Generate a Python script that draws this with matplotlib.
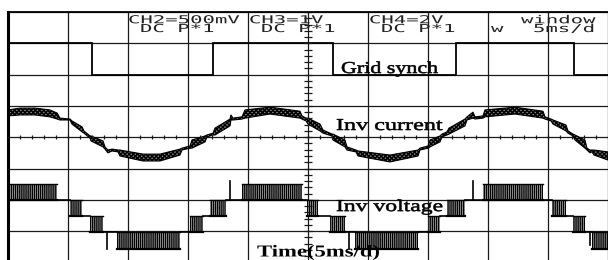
import numpy as np
import matplotlib
matplotlib.use("Agg")
import matplotlib.pyplot as plt
from matplotlib import patheffects
from matplotlib.transforms import Affine2D

# time in ms (5 ms/div), vertical position in screen divisions (0 = bottom, 8 = top)

# grid synchronisation square wave
synch_edges = [0.0, 7.0, 17.1, 27.1, 37.3, 47.2, 50.0]
synch_levels = [7.0, 6.0, 7.0, 6.0, 7.0, 6.0]

# inverter current trace, upper and lower edge of the (rippled) trace
current_t = [0.0, 1.0, 2.25, 3.5, 4.1, 4.33, 5.17, 5.33, 6.17, 6.33, 6.83, 6.92,
             7.92, 8.08, 8.33, 8.67, 9.17, 9.33, 11.25, 12.67, 14.33, 14.5, 15.17,
             15.33, 16.42, 16.58, 17.08, 17.25, 18.5, 18.58, 18.75, 19.5, 19.75,
             21.83, 24.33, 24.5, 24.83, 25.0, 26.0, 26.25, 27.0, 27.08, 28.08,
             28.25, 29.0, 29.17, 31.83, 34.17, 34.33, 35.0, 35.17, 36.0, 36.17,
             36.58, 36.75, 38.08, 38.25, 38.75, 38.92, 39.58, 39.75, 42.25, 44.58,
             44.75, 45.25, 45.42, 46.5, 46.67, 47.08, 47.25, 48.08, 48.25, 48.5,
             48.67, 48.83, 50.0]
current_hi = [4.87, 4.93, 4.93, 4.87, 4.77, 4.61, 4.58, 4.52, 4.33, 4.20, 4.04, 4.04,
              3.88, 3.69, 3.59, 3.62, 3.59, 3.59, 3.46, 3.46, 3.62, 3.65, 3.72,
              3.91, 4.04, 4.07, 4.13, 4.29, 4.58, 4.71, 4.61, 4.65, 4.87,
              4.96, 4.83, 4.68, 4.61, 4.61, 4.42, 4.23, 4.10, 4.10, 3.91,
              3.69, 3.59, 3.56, 3.43, 3.59, 3.65, 3.72, 3.91, 4.04, 4.10,
              4.17, 4.29, 4.58, 4.65, 4.80, 4.65, 4.68, 4.87, 4.96, 4.83,
              4.65, 4.58, 4.55, 4.39, 4.20, 4.10, 4.07, 3.91, 3.65, 3.59,
              3.59, 3.59, 3.53]
current_lo = [4.68, 4.71, 4.71, 4.65, 4.58, 4.55, 4.55, 4.42, 4.17, 4.13, 3.97, 3.88,
              3.69, 3.62, 3.50, 3.56, 3.53, 3.40, 3.24, 3.24, 3.43, 3.59, 3.65,
              3.65, 3.85, 4.01, 4.07, 4.07, 4.36, 4.55, 4.55, 4.58, 4.61,
              4.74, 4.61, 4.58, 4.52, 4.42, 4.20, 4.13, 4.04, 3.91, 3.69,
              3.59, 3.53, 3.40, 3.21, 3.40, 3.59, 3.65, 3.69, 3.85, 4.01,
              4.07, 4.10, 4.36, 4.55, 4.61, 4.58, 4.61, 4.65, 4.74, 4.61,
              4.58, 4.52, 4.42, 4.20, 4.13, 4.04, 3.91, 3.65, 3.59, 3.50,
              3.53, 3.43, 3.27]

# inverter voltage: constant-level parts (start, end, level)
volt_flat = [(4.1, 5.2, 2.0), (6.2, 6.8, 1.48), (7.9, 9.1, 0.97), (14.3, 15.2, 0.97),
             (16.25, 16.8, 1.48), (18.2, 19.5, 2.0), (24.5, 24.9, 2.0),
             (25.8, 26.8, 1.48), (28.1, 28.9, 0.97), (34.2, 35.0, 0.97),
             (36.0, 36.6, 1.48), (38.1, 39.6, 2.0), (44.6, 45.3, 2.0),
             (46.5, 47.1, 1.48), (48.1, 48.7, 0.97)]
# switching (PWM) parts (start, end, low level, high level)
volt_pwm = [(0.0, 4.1, 2.0, 2.52), (5.2, 6.2, 1.48, 2.0), (6.8, 7.9, 0.97, 1.48),
            (9.1, 14.3, 0.42, 0.97), (15.2, 16.25, 0.97, 1.48), (16.8, 18.2, 1.48, 2.0),
            (19.5, 24.5, 2.0, 2.52), (24.9, 25.8, 1.48, 2.0), (26.8, 28.1, 0.97, 1.48),
            (28.9, 34.2, 0.42, 0.97), (35.0, 36.0, 0.97, 1.48), (36.6, 38.1, 1.48, 2.0),
            (39.6, 44.6, 2.0, 2.52), (45.3, 46.5, 1.48, 2.0), (47.1, 48.1, 0.97, 1.48),
            (48.7, 50.0, 0.42, 0.97)]
# single switching spikes (time, low, high)
volt_spikes = [(8.25, 0.42, 0.97), (18.5, 2.0, 2.6), (28.4, 0.42, 0.97),
               (38.75, 2.0, 2.6), (48.5, 0.55, 0.97)]

# scope header text
header_rows = [("CH2=500mV", 10.0, 7.64), ("DC P*1", 11.0, 7.36),
               ("CH3=1V", 20.08, 7.64), ("DC P*1", 21.08, 7.36),
               ("CH4=2V", 30.08, 7.64), ("DC P*1", 31.08, 7.36),
               ("window", 42.75, 7.64), ("w", 40.25, 7.36), ("5ms/d", 43.75, 7.36)]

# trace labels
trace_labels = ["Grid synch", "Inv current", "Inv voltage"]
trace_label_x = [27.75, 27.33, 27.33]
trace_label_y = [6.05, 4.23, 1.64]
trace_label_stretch = [1.32, 1.45, 1.42]
time_label = "Time(5ms/d)"


class HStretch(patheffects.AbstractPathEffect):
    """Widen the text horizontally (the scope picture is stretched)."""

    def __init__(self, sx, stroke=0.0):
        super().__init__()
        self.sx = sx
        self.stroke = stroke

    def draw_path(self, renderer, gc, tpath, affine, rgbFace=None):
        x0 = affine.get_matrix()[0, 2]
        stretched = affine + Affine2D().translate(-x0, 0).scale(self.sx, 1.0).translate(x0, 0)
        gc0 = renderer.new_gc()
        gc0.copy_properties(gc)
        if self.stroke > 0:
            gc0.set_linewidth(self.stroke)
            gc0.set_foreground(rgbFace)
        renderer.draw_path(gc0, tpath, stretched, rgbFace)
        gc0.restore()


fig = plt.figure(figsize=(6.08, 2.6), dpi=100)
ax = fig.add_axes([8 / 608, -2.4 / 260, 600 / 608, 250.4 / 260])
ax.set_xlim(0, 50)
ax.set_ylim(0, 8)

ax.set_xticks(np.arange(0, 51, 5))
ax.set_yticks(np.arange(0, 9, 1))
ax.tick_params(length=0, labelbottom=False, labelleft=False)
ax.grid(True, color="#1a1a1a", linewidth=0.9)
ax.set_axisbelow(True)
ax.spines["left"].set_linewidth(2.2)
ax.spines["top"].set_linewidth(1.3)
ax.spines["right"].set_visible(False)
ax.spines["bottom"].set_visible(False)

# graticule ticks on the centre lines
ax.vlines(np.arange(0, 50.01, 1.0), 3.94, 4.06, color="#1a1a1a", linewidth=0.9)
ax.hlines(np.arange(0, 8.01, 0.2), 24.65, 25.35, color="#1a1a1a", linewidth=0.9)

# grid synch
ax.stairs(synch_levels, synch_edges, color="black", linewidth=1.3, baseline=None)

# inverter current (ripple drawn as a dark hatched band)
plt.rcParams["hatch.linewidth"] = 1.0
ax.fill_between(current_t, current_lo, current_hi, facecolor="0.5",
                edgecolor="black", hatch="xxxxxxxx", linewidth=0.8)

# inverter voltage
for t0, t1, level in volt_flat:
    ax.plot([t0, t1], [level, level], color="black", linewidth=1.2)
for t0, t1, lo, hi in volt_pwm:
    ax.fill_between([t0, t1], [lo, lo], [hi, hi], facecolor="0.75",
                    edgecolor="black", hatch="||||||||", linewidth=0.0)
    ax.plot([t0, t1], [lo, lo], color="black", linewidth=1.6)
    ax.plot([t0, t1], [hi, hi], color="black", linewidth=1.0)
for t, lo, hi in volt_spikes:
    ax.plot([t, t], [lo, hi], color="black", linewidth=1.2)

for text, x, y in header_rows:
    ax.text(x, y, text, family="DejaVu Sans Mono", fontsize=7.9, color="#222222",
            ha="left", va="baseline", path_effects=[HStretch(1.88)])

for text, x, y, sx in zip(trace_labels, trace_label_x, trace_label_y, trace_label_stretch):
    ax.text(x, y, text, family="Liberation Serif", fontsize=12, color="black",
            ha="left", va="baseline", path_effects=[HStretch(sx, stroke=0.4)])

ax.text(20.75, 0.19, time_label, family="Liberation Serif", fontsize=12,
        fontweight="bold", color="black", ha="left", va="baseline",
        clip_on=False, path_effects=[HStretch(1.36)])

fig.savefig("out.png", dpi=100, facecolor="white")
